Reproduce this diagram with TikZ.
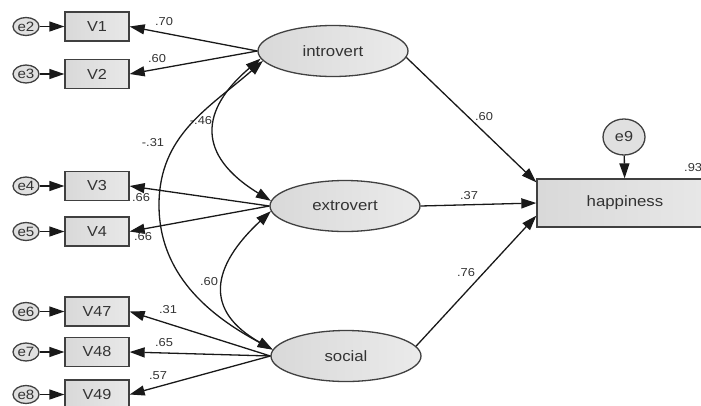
\documentclass[tikz,border=0pt]{standalone}
\usepackage{fontspec}
\setmainfont[FakeStretch=1.12]{Liberation Sans}
\usetikzlibrary{arrows.meta,shapes.geometric,calc}

\begin{document}
\begin{tikzpicture}[x=1pt,y=-1pt,
  every node/.style={text=black!80},
  edge/.style={draw=black!90, line width=1.3pt},
  tip/.style={-{Triangle[length=15pt,width=10pt]}},
  cov/.style={{Triangle[length=15pt,width=10pt]}-{Triangle[length=15pt,width=10pt]}},
  obsbox/.style={draw=black!75, line width=1.3pt, rectangle,
    left color=black!15, right color=black!9,
    minimum width=64pt, minimum height=29pt, inner sep=0pt,
    font=\fontsize{14.5}{16}\selectfont},
  errnode/.style={draw=black!75, line width=1.3pt, ellipse,
    fill=black!12, minimum width=26pt, minimum height=18pt, inner sep=0pt,
    font=\fontsize{13.5}{15}\selectfont},
  latent/.style={draw=black!75, line width=1.3pt, ellipse,
    left color=black!15, right color=black!8,
    minimum width=150pt, minimum height=51pt, inner sep=0pt,
    font=\fontsize{15}{17}\selectfont},
  coef/.style={font=\fontsize{11.5}{13}\selectfont, inner sep=0pt}
]
\useasboundingbox (0,0) rectangle (701,405);

% observed indicators
\node[obsbox] (v1)  at (97,26.5)  {V1};
\node[obsbox] (v2)  at (97,74)    {V2};
\node[obsbox] (v3)  at (97,186)   {V3};
\node[obsbox] (v4)  at (97,231.5) {V4};
\node[obsbox] (v47) at (97,311.5) {V47};
\node[obsbox] (v48) at (97,352)   {V48};
\node[obsbox] (v49) at (97,394.5) {V49};

% error terms of the indicators
\node[errnode] (e2) at (26,26.5)  {e2};
\node[errnode] (e3) at (26,74)    {e3};
\node[errnode] (e4) at (26,186)   {e4};
\node[errnode] (e5) at (26,231.5) {e5};
\node[errnode] (e6) at (26,311.5) {e6};
\node[errnode] (e7) at (26,352)   {e7};
\node[errnode] (e8) at (26,394.5) {e8};

% latent factors
\node[latent] (intro)  at (333,51)  {introvert};
\node[latent] (extro)  at (345,206) {extrovert};
\node[latent] (social) at (346,356) {social};

% outcome and its disturbance
\node[obsbox, minimum width=176pt, minimum height=48pt,
      font=\fontsize{15}{17}\selectfont] (happy) at (625,203) {happiness};
\node[errnode, minimum width=42pt, minimum height=36pt,
      font=\fontsize{14.5}{16}\selectfont] (e9) at (624,137) {e9};

% error paths
\foreach \e/\v in {e2/v1,e3/v2,e4/v3,e5/v4,e6/v47,e7/v48,e8/v49}
  \draw[edge,tip] (\e) -- (\v);
\draw[edge,tip] (e9) -- (happy);

% factor loadings
\draw[edge,tip] (intro.west)  -- (v1.east);
\draw[edge,tip] (intro.west)  -- (v2.east);
\draw[edge,tip] (extro.west)  -- (v3.east);
\draw[edge,tip] (extro.west)  -- (v4.east);
\draw[edge,tip] (social.west) -- (v47.east);
\draw[edge,tip] (social.west) -- (v48.east);
\draw[edge,tip] (social.west) -- (v49.east);

% structural paths
\draw[edge,tip] (intro.-5) -- ($(happy.north west)+(0,4)$);
\draw[edge,tip] (extro.east) -- (happy.west);
\draw[edge,tip] (social.8) -- ($(happy.south west)+(0,-12)$);

% factor covariances
\coordinate (bend) at (159,205);
\draw[edge,cov] (intro.186) .. controls (200,110) and (196,155) .. (extro.176);
\draw[edge,{Triangle[length=15pt,width=10pt]}-] (intro.188) .. controls (209,108) and (159,135) .. (bend);
\draw[edge,tip] (bend) .. controls (159,280) and (218,320) .. (social.175);
\draw[edge,cov] (extro.184) .. controls (211.6,266.4) and (203,310.4) .. (social.175);

% coefficients
\node[coef] (c1)  at (164,22)  {.70};
\node[coef] (c2)  at (157,59)  {.60};
\node[coef] (c3)  at (141,198) {.66};
\node[coef] (c4)  at (143,237) {.66};
\node[coef] (c5)  at (168,310) {.31};
\node[coef] (c6)  at (164,343) {.65};
\node[coef] (c7)  at (158,376) {.57};
\node[coef] (c8)  at (201,121) {-.46};
\node[coef] (c9)  at (153,143) {-.31};
\node[coef] (c10) at (209,282) {.60};
\node[coef] (c11) at (484,117) {.60};
\node[coef] (c12) at (469,196) {.37};
\node[coef] (c13) at (466,273) {.76};
\node[coef, anchor=west] (c14) at (684,168) {.93};
\end{tikzpicture}
\end{document}
